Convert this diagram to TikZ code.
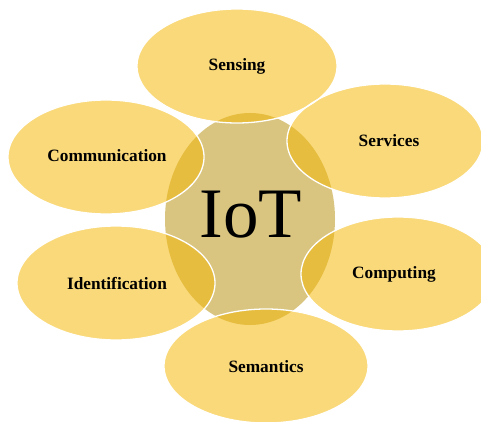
\documentclass[tikz,border=0pt]{standalone}
\usepackage{fontspec}
\setmainfont{Liberation Serif}
\begin{document}
\begin{tikzpicture}[x=1pt,y=-1pt,
  petalfill/.style={fill=petal},
  petaledge/.style={draw=white,line width=1.3pt},
  lbl/.style={font=\fontsize{17.3}{20}\selectfont\bfseries,inner sep=0pt,text=black}]
\definecolor{petal}{HTML}{F9D97A}
\definecolor{core}{HTML}{D9C57F}
\definecolor{overlap}{HTML}{E7BD3F}
\useasboundingbox (0,0) rectangle (481,422);
\fill[white] (0,0) rectangle (481,422);
% petal centres
\coordinate (cSen) at (237,66);
\coordinate (cSer) at (385,141);
\coordinate (cCom) at (106,157);
\coordinate (cIde) at (116,283);
\coordinate (cCmp) at (398,274);
\coordinate (cSem) at (266,366);
\coordinate (cIoT) at (250,219);
\begin{scope}
\clip (0,0) rectangle (481,422);
% core
\fill[core] (cIoT) ellipse [x radius=85, y radius=106];
% petals
\foreach \c/\rx in {cSen/100,cSer/98,cCom/98,cIde/99,cCmp/97,cSem/102}
  \fill[petalfill] (\c) ellipse [x radius=\rx, y radius=57];
% overlaps
\begin{scope}
\clip (cIoT) ellipse [x radius=85, y radius=106];
\foreach \c/\rx in {cSen/100,cSer/98,cCom/98,cIde/99,cCmp/97,cSem/102}
  \fill[overlap] (\c) ellipse [x radius=\rx, y radius=57];
\end{scope}
% outlines
\foreach \c/\rx in {cSen/100,cSer/98,cCom/98,cIde/99,cCmp/97,cSem/102}
  \draw[petaledge] (\c) ellipse [x radius=\rx, y radius=57];
\end{scope}
% labels
\node[lbl] (sen) at (237,66) {Sensing};
\node[lbl] (ser) at (389,141) {Services};
\node[lbl] (com) at (107,156) {Communication};
\node[lbl] (ide) at (117,283) {Identification};
\node[lbl] (cmp) at (394,274) {Computing};
\node[lbl] (sem) at (266,367) {Semantics};
\node[font=\fontsize{71}{71}\selectfont,inner sep=0pt,text=black] (iot) at (251,215) {IoT};
\end{tikzpicture}
\end{document}
